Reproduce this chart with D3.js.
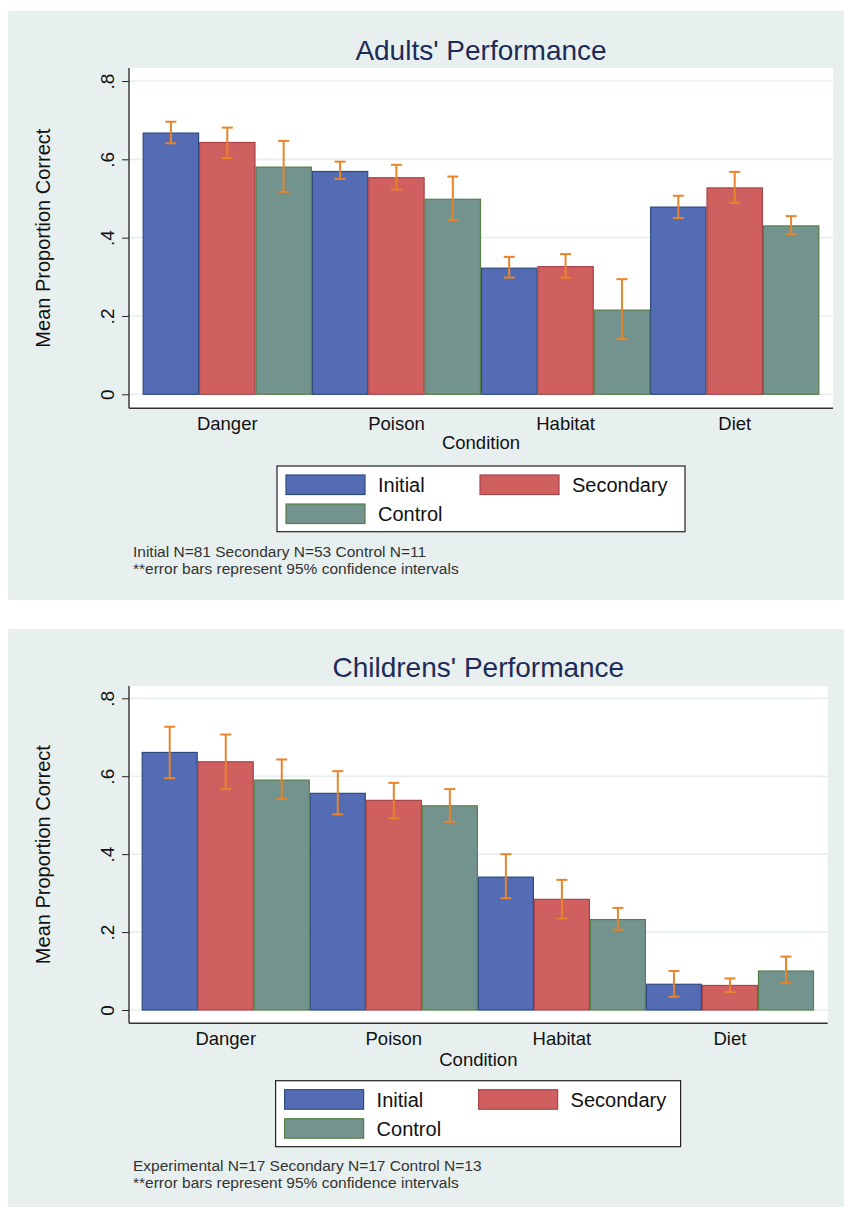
<!DOCTYPE html>
<html>
<head>
<meta charset="utf-8">
<script src="https://cdn.jsdelivr.net/npm/d3@7"></script>
<style>
  body { margin: 0; background: #ffffff; }
  svg { display: block; font-family: "Liberation Sans", Arial, sans-serif; }
</style>
</head>
<body>
<svg id="chart" width="844" height="1207"></svg>
<script>
// categories and series
var conditions = ["Danger", "Poison", "Habitat", "Diet"];
var groups = ["Initial", "Secondary", "Control"];
var tickValues = [0, 0.2, 0.4, 0.6, 0.8];
var tickLabels = ["0", ".2", ".4", ".6", ".8"];

// adults: means and 95% CI per group, one entry per condition
var adultsInitial = [0.667, 0.569, 0.322, 0.478];
var adultsSecondary = [0.643, 0.553, 0.326, 0.527];
var adultsControl = [0.580, 0.498, 0.215, 0.430];
var adultsLow = [[0.641, 0.550, 0.298, 0.450], [0.603, 0.523, 0.298, 0.489], [0.517, 0.445, 0.141, 0.409]];
var adultsHigh = [[0.696, 0.594, 0.351, 0.507], [0.681, 0.586, 0.358, 0.568], [0.647, 0.556, 0.294, 0.455]];

// children
var childrenInitial = [0.661, 0.556, 0.341, 0.066];
var childrenSecondary = [0.637, 0.538, 0.284, 0.063];
var childrenControl = [0.590, 0.524, 0.232, 0.100];
var childrenLow = [[0.595, 0.502, 0.287, 0.034], [0.567, 0.492, 0.235, 0.046], [0.542, 0.483, 0.206, 0.070]];
var childrenHigh = [[0.727, 0.613, 0.400, 0.100], [0.707, 0.583, 0.334, 0.081], [0.643, 0.567, 0.262, 0.137]];

var adultsNotes = ["Initial N=81 Secondary N=53 Control N=11", "**error bars represent 95% confidence intervals"];
var childrenNotes = ["Experimental N=17 Secondary N=17 Control N=13", "**error bars represent 95% confidence intervals"];

var fills = ["#546cb3", "#d05f60", "#73938f"];
var strokes = ["#2c4a80", "#a8434a", "#587e48"];
var bgColor = "#e8f0ef";
var errColor = "#e8842a";

var svg = d3.select("#chart");

function drawPanel(cfg) {
  var g = svg.append("g");

  g.append("rect")
    .attr("x", 8).attr("y", cfg.top)
    .attr("width", 836).attr("height", cfg.bottom - cfg.top)
    .attr("fill", bgColor);

  g.append("rect")
    .attr("x", cfg.plotL).attr("y", cfg.plotT)
    .attr("width", cfg.plotR - cfg.plotL).attr("height", cfg.plotB - cfg.plotT)
    .attr("fill", "#ffffff");

  var y = d3.scaleLinear().domain([0, 0.8]).range([cfg.y0, cfg.y8]);
  var x = d3.scaleBand().domain(conditions).range([cfg.barL, cfg.barR]).padding(0);
  var xg = d3.scaleBand().domain(groups).range([0, x.bandwidth()]).padding(0);

  // gridlines
  g.selectAll(".grid")
    .data(tickValues)
    .enter()
    .append("line")
    .attr("x1", cfg.plotL).attr("x2", cfg.plotR)
    .attr("y1", d => y(d)).attr("y2", d => y(d))
    .attr("stroke", bgColor)
    .attr("stroke-width", 1.6);

  // title
  g.append("text")
    .attr("x", (cfg.plotL + cfg.plotR) / 2)
    .attr("y", cfg.titleY)
    .attr("dy", ".35em")
    .attr("text-anchor", "middle")
    .attr("fill", "#1e2b58")
    .style("font-size", "28px")
    .text(cfg.title);

  // bars
  var rows = [];
  for (var s = 0; s < groups.length; s++) {
    for (var c = 0; c < conditions.length; c++) {
      rows.push({ group: s, cond: conditions[c], value: cfg.series[s][c], lo: cfg.low[s][c], hi: cfg.high[s][c] });
    }
  }

  g.selectAll(".bar")
    .data(rows)
    .enter()
    .append("rect")
    .attr("x", d => x(d.cond) + xg(groups[d.group]) + 0.5)
    .attr("y", d => y(d.value))
    .attr("width", xg.bandwidth() - 1)
    .attr("height", d => y(0) - y(d.value))
    .attr("fill", d => fills[d.group])
    .attr("stroke", d => strokes[d.group])
    .attr("stroke-width", 1.2);

  // error bars
  var err = g.selectAll(".err")
    .data(rows)
    .enter()
    .append("g")
    .attr("transform", d => "translate(" + (x(d.cond) + xg(groups[d.group]) + xg.bandwidth() / 2) + ",0)")
    .attr("stroke", errColor)
    .attr("stroke-width", 2);
  err.append("line").attr("x1", 0).attr("x2", 0).attr("y1", d => y(d.lo)).attr("y2", d => y(d.hi));
  err.append("line").attr("x1", -5.5).attr("x2", 5.5).attr("y1", d => y(d.lo)).attr("y2", d => y(d.lo));
  err.append("line").attr("x1", -5.5).attr("x2", 5.5).attr("y1", d => y(d.hi)).attr("y2", d => y(d.hi));

  // y axis
  var yAxis = g.append("g")
    .attr("transform", "translate(" + cfg.plotL + ",0)")
    .call(d3.axisLeft(y).tickValues(tickValues).tickFormat((d, i) => tickLabels[i]).tickSize(7).tickSizeOuter(0));
  yAxis.select(".domain").remove();
  yAxis.selectAll("line").attr("stroke", "#222");
  yAxis.selectAll("text")
    .attr("x", 0).attr("y", 0).attr("dy", ".35em")
    .attr("transform", "translate(-22,0) rotate(-90)")
    .attr("text-anchor", "middle")
    .attr("fill", "#111")
    .style("font-size", "19px")
    .style("font-family", "Liberation Sans, Arial, sans-serif");

  g.append("line")
    .attr("x1", cfg.plotL).attr("x2", cfg.plotL)
    .attr("y1", cfg.plotT).attr("y2", cfg.plotB)
    .attr("stroke", "#222").attr("stroke-width", 1.3);

  // x axis
  var xAxis = g.append("g")
    .attr("transform", "translate(0," + cfg.plotB + ")")
    .call(d3.axisBottom(x).tickSize(0).tickPadding(9));
  xAxis.select(".domain").remove();
  xAxis.selectAll("text")
    .attr("fill", "#111")
    .style("font-size", "18.5px")
    .style("font-family", "Liberation Sans, Arial, sans-serif");

  g.append("line")
    .attr("x1", cfg.plotL).attr("x2", cfg.plotR)
    .attr("y1", cfg.plotB).attr("y2", cfg.plotB)
    .attr("stroke", "#333").attr("stroke-width", 1.5);

  g.append("text")
    .attr("x", (cfg.plotL + cfg.plotR) / 2)
    .attr("y", cfg.condY)
    .attr("dy", ".35em")
    .attr("text-anchor", "middle")
    .attr("fill", "#111")
    .style("font-size", "18.5px")
    .text("Condition");

  g.append("text")
    .attr("transform", "translate(43," + ((cfg.plotT + cfg.plotB) / 2) + ") rotate(-90)")
    .attr("dy", ".35em")
    .attr("text-anchor", "middle")
    .attr("fill", "#111")
    .style("font-size", "20px")
    .text("Mean Proportion Correct");

  // legend
  var lg = g.append("g").attr("transform", "translate(" + cfg.legX + "," + cfg.legY + ")");
  lg.append("rect")
    .attr("width", cfg.legW).attr("height", cfg.legH)
    .attr("fill", "#ffffff").attr("stroke", "#222").attr("stroke-width", 1.2);
  var spots = [[9, 9], [203, 9], [9, 38]];
  var item = lg.selectAll(".item")
    .data(groups)
    .enter()
    .append("g")
    .attr("transform", (d, i) => "translate(" + spots[i][0] + "," + spots[i][1] + ")");
  item.append("rect")
    .attr("width", 79).attr("height", 19.5)
    .attr("fill", (d, i) => fills[i])
    .attr("stroke", (d, i) => strokes[i])
    .attr("stroke-width", 1.2);
  item.append("text")
    .attr("x", 92).attr("y", 10)
    .attr("dy", ".35em")
    .attr("fill", "#111")
    .style("font-size", "20px")
    .text(d => d);

  // notes
  g.selectAll(".note")
    .data(cfg.notes)
    .enter()
    .append("text")
    .attr("x", 133)
    .attr("y", (d, i) => cfg.noteY + i * 16.6)
    .attr("dy", ".35em")
    .attr("fill", "#333")
    .style("font-size", "15.5px")
    .text(d => d);
}

drawPanel({
  title: "Adults' Performance",
  top: 11, bottom: 600,
  plotL: 129, plotR: 833, plotT: 68, plotB: 408.3,
  y0: 394.3, y8: 81,
  barL: 142.7, barR: 819.3,
  titleY: 50, condY: 443,
  legX: 277, legY: 466, legW: 408, legH: 65.7,
  noteY: 551.7,
  series: [adultsInitial, adultsSecondary, adultsControl],
  low: adultsLow, high: adultsHigh,
  notes: adultsNotes
});

drawPanel({
  title: "Childrens' Performance",
  top: 629, bottom: 1207,
  plotL: 129, plotR: 827.7, plotT: 686, plotB: 1023.3,
  y0: 1010, y8: 698.3,
  barL: 141.7, barR: 814,
  titleY: 666.7, condY: 1060,
  legX: 275.6, legY: 1080.7, legW: 405, legH: 66,
  noteY: 1165.7,
  series: [childrenInitial, childrenSecondary, childrenControl],
  low: childrenLow, high: childrenHigh,
  notes: childrenNotes
});
</script>
</body>
</html>
